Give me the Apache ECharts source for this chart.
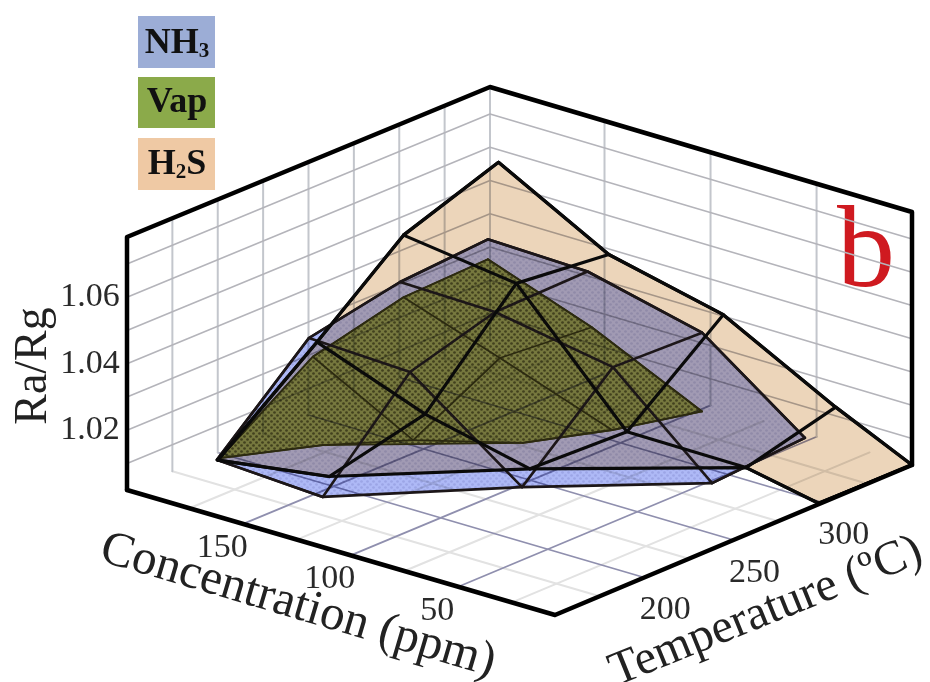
<!DOCTYPE html>
<html><head><meta charset="utf-8">
<script src="https://cdn.jsdelivr.net/npm/echarts@6/dist/echarts.min.js"></script>
<style>html,body{margin:0;padding:0;background:#fff}#c{width:930px;height:682px;filter:blur(0.55px)}</style>
</head><body><div id="c"></div>
<script>
// ---------- data ----------
const concentrationTicks = [150, 100, 50];
const temperatureTicks = [200, 250, 300];
const ratioTicks = [1.02, 1.04, 1.06];
const ratioGrid = [1.01, 1.02, 1.03, 1.04, 1.05, 1.06, 1.07];
const tempGrid = [175, 200, 225, 250, 275, 300, 325];
const concGrid = [175, 150, 125, 100, 75, 50, 25];
const wallConc = [150, 100, 50];
// rows of the measured mesh, one row per temperature
const meshTemps = [350, 300, 250, 200];
const nh3Conc = [[205, 158, 104, 55.5], [203.6, 159, 103.6, 57], [203.8, 156.5, 104], [204.4, 155]];
const nh3Ratio = [[1.0321, 1.0313, 1.0231, 1.0006], [1.0308, 1.0302, 1.0241, 0.998], [1.0252, 1.0239, 0.9992], [0.9997, 0.9979]];
const vapConc = [[205, 156, 104], [202, 156.7, 104], [202, 155, 103.6], [203, 155]];
const vapRatio = [[1.0261, 1.0149, 0.9994], [1.0265, 1.0168, 1.0051], [1.0199, 1.0037, 1.0126], [1.0005, 1.0135]];
const h2sConc = [[200, 148, 94, 41, 5], [202, 149, 97, 41, 7], [200, 149.4, 100.3], [204, 152]];
const h2sRatio = [[1.0562, 1.0383, 1.0304, 1.0126, 1.002], [1.0452, 1.0407, 1.0059, 1.0057, 1.0014], [1.0247, 1.0126, 1.0054], [0.9997, 1.0046]];

// ---------- oblique box projection ----------
const C0 = 5, C1 = 204, T0 = 150, T1 = 350, R0 = 1.002, R1 = 1.0781;
function project(c, t, r) {
  const a = (c - C0) / (C1 - C0), b = (t - T0) / (T1 - T0), h = (r - R0) / (R1 - R0);
  return [555 - 428 * a + 357 * b + 6 * a * b, 615 - 125 * a - 150 * b - 253 * h];
}
function surface(concs, ratios) {
  const rows = concs.map((row, i) => row.map((c, j) => [c, meshTemps[i], ratios[i][j]]));
  const hull = rows[0].slice();
  for (let i = 1; i < rows.length; i++) {
    const r = rows[i];
    const stop = i === rows.length - 1 ? 0 : Math.min(rows[i + 1].length, r.length - 1);
    for (let j = r.length - 1; j >= stop; j--) hull.push(r[j]);
  }
  for (let i = rows.length - 2; i >= 1; i--) hull.push(rows[i][0]);
  const cols = [];
  const n = Math.max(...rows.map(r => r.length));
  for (let j = 0; j < n; j++) {
    const col = rows.filter(r => j < r.length).map(r => r[j]);
    if (col.length > 1) cols.push(col);
  }
  return { hull, lines: rows.filter(r => r.length > 1).concat(cols, [hull.concat([hull[0]])]) };
}
const nh3 = surface(nh3Conc, nh3Ratio), vap = surface(vapConc, vapRatio), h2s = surface(h2sConc, h2sRatio);

function dots(color) {
  const cv = document.createElement('canvas'); cv.width = cv.height = 6;
  const g = cv.getContext('2d'); g.fillStyle = color;
  [[1.5, 1.5], [4.5, 4.5]].forEach(p => { g.beginPath(); g.arc(p[0], p[1], 1.35, 0, 7); g.fill(); });
  return { image: cv, repeat: 'repeat' };
}

function lineSeries(lines, style) {
  return {
    type: 'custom', coordinateSystem: 'cartesian2d', silent: true, clip: false,
    data: lines.map((_, i) => [i, 0]),
    encode: { x: 0, y: 1 },
    renderItem: (p, api) => ({
      type: 'polyline',
      shape: { points: lines[p.dataIndex].map(v => api.coord(project(v[0], v[1], v[2]))) },
      style: Object.assign({ fill: null, lineJoin: 'round', lineCap: 'round' }, style)
    })
  };
}
function fillSeries(hull, fill) {
  return {
    type: 'custom', coordinateSystem: 'cartesian2d', silent: true, clip: false,
    blendMode: 'multiply',
    data: [[0, 0]], encode: { x: 0, y: 1 },
    renderItem: (p, api) => ({
      type: 'polygon',
      shape: { points: hull.map(v => api.coord(project(v[0], v[1], v[2]))) },
      style: { fill: fill, stroke: null }
    })
  };
}
function tickSeries(items) {
  return {
    type: 'custom', coordinateSystem: 'cartesian2d', silent: true, clip: false,
    data: items.map((_, i) => [i, 0]), encode: { x: 0, y: 1 },
    renderItem: (p, api) => {
      const it = items[p.dataIndex], q = api.coord(project(it.at[0], it.at[1], it.at[2]));
      return { type: 'text', x: q[0] + it.dx, y: q[1] + it.dy,
        style: { text: it.text, font: '34px "Liberation Serif"', fill: '#2a2a2a', align: 'center', verticalAlign: 'middle' } };
    }
  };
}

// ---------- box lines ----------
const wallLines = [], floorMajor = [], floorMinor = [], wallVert = [];
ratioGrid.forEach(r => wallLines.push([[C1, T0, r], [C1, T1, r], [C0, T1, r]]));
tempGrid.forEach(t => wallVert.push([[C1, t, R0], [C1, t, R1]]));
wallConc.forEach(c => wallVert.push([[c, T1, R0], [c, T1, R1]]));
wallVert.push([[C1, T1, R0], [C1, T1, R1]]);
concGrid.forEach(c => (concentrationTicks.includes(c) ? floorMajor : floorMinor).push([[c, T0, R0], [c, T1, R0]]));
tempGrid.forEach(t => (temperatureTicks.includes(t) ? floorMajor : floorMinor).push([[C0, t, R0], [C1, t, R0]]));
const frame = [
  [[C1, T0, R0], [C1, T0, R1], [C1, T1, R1], [C0, T1, R1], [C0, T1, R0]],
  [[C1, T0, R0], [C0, T0, R0], [C0, T1, R0]]
];
const ticks = [];
concentrationTicks.forEach(c => ticks.push({ text: String(c), at: [c, T0, R0], dx: -21, dy: 24 }));
temperatureTicks.forEach(t => ticks.push({ text: String(t), at: [C0, t, R0], dx: 21, dy: 33 }));
ratioTicks.forEach(r => ticks.push({ text: r.toFixed(2), at: [C1, T0, r], dx: -37, dy: 0 }));

const serif = '"Liberation Serif"';
const sub = { fontSize: 21, fontWeight: 'bold', fontFamily: serif, fill: '#111', verticalAlign: 'bottom', padding: [14, 0, 0, 0], lineHeight: 36 };
const big = { fontSize: 36, fontWeight: 'bold', fontFamily: serif, fill: '#111', lineHeight: 36 };
function swatch(y, h, color) { return { type: 'rect', shape: { x: 138, y: y, width: 77, height: h }, style: { fill: color } }; }
function legText(y, text) {
  return { type: 'text', x: 177, y: y, style: { text: text, rich: { a: big, b: sub }, align: 'center', verticalAlign: 'middle' } };
}

const chart = echarts.init(document.getElementById('c'), null, { renderer: 'canvas' });
chart.setOption({
  backgroundColor: '#fff',
  animation: false,
  grid: { left: 0, top: 0, width: 930, height: 682 },
  xAxis: { type: 'value', min: 0, max: 930, show: false },
  yAxis: { type: 'value', min: 0, max: 682, inverse: true, show: false },
  series: [
    lineSeries(floorMinor, { stroke: '#e2e2e2', lineWidth: 2 }),
    lineSeries(floorMajor, { stroke: '#8f8fae', lineWidth: 1.8 }),
    lineSeries(wallVert, { stroke: '#c3c6cc', lineWidth: 2 }),
    lineSeries(wallLines, { stroke: '#b4b4ba', lineWidth: 1.6 }),
    fillSeries(nh3.hull, '#aeb9f6'),
    fillSeries(nh3.hull, dots('rgba(120,120,170,0.2)')),
    fillSeries(vap.hull, '#bcc758'),
    fillSeries(vap.hull, dots('rgba(60,55,0,0.5)')),
    fillSeries(h2s.hull, '#ecd5ba'),
    lineSeries(vap.lines, { stroke: '#2c2a10', lineWidth: 1.8 }),
    lineSeries(nh3.lines, { stroke: '#1c1618', lineWidth: 2.6 }),
    lineSeries(h2s.lines, { stroke: '#0a0a0a', lineWidth: 3.2 }),
    lineSeries(frame, { stroke: '#000', lineWidth: 4.5 }),
    tickSeries(ticks)
  ],
  graphic: [
    swatch(16, 52, '#9cadd6'), swatch(77, 51, '#8baa4a'), swatch(138, 52, '#efc9a4'),
    legText(44, '{a|NH}{b|3}'), legText(103, '{a|Vap}'), legText(165, '{a|H}{b|2}{a|S}'),
    { type: 'text', x: 866, y: 256, style: { text: 'b', font: '116px ' + serif, fill: '#cf1a20', align: 'center', verticalAlign: 'middle' } },
    { type: 'text', x: 34, y: 366, rotation: Math.PI / 2, style: { text: 'Ra/Rg', font: '46px ' + serif, fill: '#222', align: 'center', verticalAlign: 'middle' } },
    { type: 'text', x: 298, y: 606, rotation: -16.5 * Math.PI / 180, style: { text: 'Concentration (ppm)', font: '49px ' + serif, fill: '#222', align: 'center', verticalAlign: 'middle' } },
    { type: 'text', x: 766, y: 612, rotation: 22 * Math.PI / 180, style: { text: 'Temperature (ºC)', font: '48px ' + serif, fill: '#222', align: 'center', verticalAlign: 'middle' } }
  ]
});
</script></body></html>
